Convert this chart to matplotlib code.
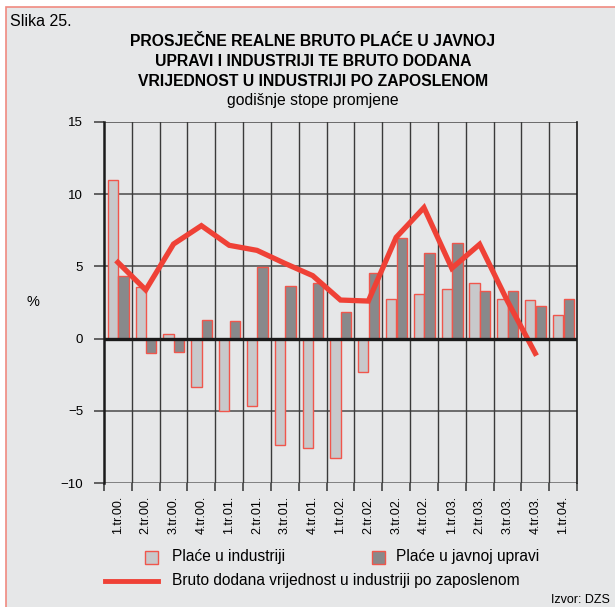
import numpy as np
import matplotlib
matplotlib.use("Agg")
from matplotlib import pyplot as plt
from matplotlib.patches import Rectangle
from matplotlib.lines import Line2D

plt.rcParams['font.family'] = ['Liberation Sans', 'DejaVu Sans']

# Data
quarters = ["1.tr.00.", "2.tr.00.", "3.tr.00.", "4.tr.00.",
            "1.tr.01.", "2.tr.01.", "3.tr.01.", "4.tr.01.",
            "1.tr.02.", "2.tr.02.", "3.tr.02.", "4.tr.02.",
            "1.tr.03.", "2.tr.03.", "3.tr.03.", "4.tr.03.",
            "1.tr.04."]
wages_industry = [11.0, 3.55, 0.34, -3.33, -5.0, -4.67, -7.4, -7.6,
                  -8.27, -2.3, 2.74, 3.1, 3.46, 3.87, 2.72, 2.67, 1.63]
wages_public = [4.33, -0.97, -0.93, 1.31, 1.2, 4.94, 3.64, 3.85,
                1.82, 4.52, 6.94, 5.95, 6.6, 3.3, 3.3, 2.26, 2.76]
gva_per_employee = [5.28, 3.37, 6.55, 7.82, 6.46, 6.11, 5.21, 4.36,
                    2.67, 2.6, 7.01, 9.07, 4.87, 6.53, 2.6, -1.02, np.nan]

BG = "#e6e7e8"
RED = "#ef4136"
LIGHT = "#c8c9cb"
DARK = "#88898b"
W, H = 615, 607


def fx(px):
    return px / W


def fy(py):
    return 1 - py / H


fig = plt.figure(figsize=(6.15, 6.07), dpi=100, facecolor="white")

# gray panel with red border on top/left (right and bottom run off the image)
fig.patches.append(Rectangle((fx(5.5), -0.05), 1, fy(6.5) + 0.05, transform=fig.transFigure,
                             facecolor=BG, edgecolor="#f08a80", linewidth=1.2, zorder=-10))

ax = fig.add_axes([fx(104), fy(483), fx(577 - 104), (483 - 122) / H])
ax.set_facecolor(BG)

x = np.arange(len(quarters))
bw = 0.37
ax.bar(x - 0.18, wages_industry, bw, color=LIGHT, edgecolor="#f0564c", linewidth=1, zorder=3)
ax.bar(x + 0.2, wages_public, bw, color=DARK, edgecolor="#f0564c", linewidth=1, zorder=3)
ax.plot(x, gva_per_employee, color=RED, linewidth=3.8, solid_joinstyle="miter", zorder=5)

ax.set_xlim(-0.5, len(quarters) - 0.5)
ax.set_ylim(-10, 15)

# grid
for yv in [-5, 5, 10, 15]:
    ax.axhline(yv, color="#4a4a4a", linewidth=1.1, zorder=1)
ax.axhline(-10, color="#707070", linewidth=1.2, zorder=1)
for xv in np.arange(0.5, len(quarters) - 0.5, 1):
    ax.axvline(xv, color="#3a3a3a", linewidth=1.0, zorder=1)
ax.axhline(0, color="#1a1a1a", linewidth=2.4, zorder=6)

for s in ["top", "bottom"]:
    ax.spines[s].set_visible(False)
ax.spines["left"].set_linewidth(1.8)
ax.spines["left"].set_color("#1a1a1a")
ax.spines["right"].set_linewidth(1.2)
ax.spines["right"].set_color("#1a1a1a")

ax.set_yticks([-10, -5, 0, 5, 10, 15])
ax.set_yticklabels(["\u221210", "\u22125", "0", "5", "10", "15"])
ax.tick_params(axis="y", length=7, width=1.3, color="#555555", labelsize=9.5, pad=8)

ax.set_xticks(x)
ax.set_xticklabels(quarters, rotation=90, fontsize=9)
ax.tick_params(axis="x", which="major", length=0, pad=9)
ax.set_xticks(np.arange(-0.5, len(quarters), 1), minor=True)
ax.tick_params(axis="x", which="minor", length=6, width=1.1, color="#333333")

fig.text(fx(33), fy(302), "%", fontsize=10.5, ha="center", va="center")

# titles
fig.text(fx(10), fy(22), "Slika 25.", fontsize=11.5, ha="left", va="center")
for i, line in enumerate(["PROSJEČNE REALNE BRUTO PLAĆE U JAVNOJ",
                          "UPRAVI I INDUSTRIJI TE BRUTO DODANA",
                          "VRIJEDNOST U INDUSTRIJI PO ZAPOSLENOM"]):
    fig.text(fx(313), fy(42 + 20 * i), line, fontsize=11.3, fontweight="bold",
             ha="center", va="center")
fig.text(fx(313), fy(100), "godišnje stope promjene", fontsize=11.3,
         ha="center", va="center")

# legend
fig.patches.append(Rectangle((fx(145), fy(564)), fx(13), 13 / H, transform=fig.transFigure,
                             facecolor=LIGHT, edgecolor="#f0564c", linewidth=1))
fig.text(fx(172), fy(557), "Plaće u industriji", fontsize=11.2, ha="left", va="center")
fig.patches.append(Rectangle((fx(372), fy(564)), fx(13), 13 / H, transform=fig.transFigure,
                             facecolor=DARK, edgecolor="#f0564c", linewidth=1))
fig.text(fx(396), fy(557), "Plaće u javnoj upravi", fontsize=11.2, ha="left", va="center")
fig.lines.append(Line2D([fx(105), fx(158)], [fy(581), fy(581)], transform=fig.transFigure,
                        color=RED, linewidth=3.5))
fig.text(fx(172), fy(581), "Bruto dodana vrijednost u industriji po zaposlenom",
         fontsize=11.2, ha="left", va="center")
fig.text(fx(610), fy(600), "Izvor: DZS", fontsize=9, ha="right", va="center")

fig.savefig("out.png", dpi=100, facecolor="white")
